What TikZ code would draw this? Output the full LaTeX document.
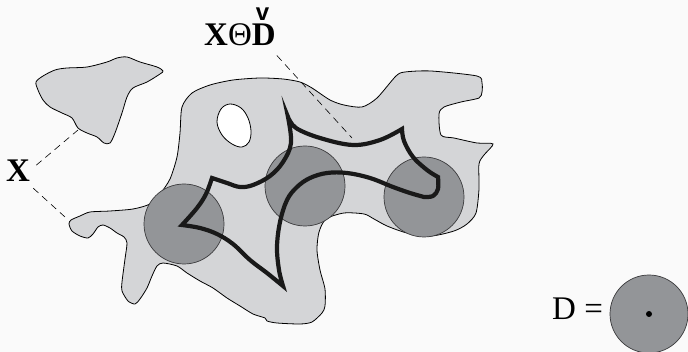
\documentclass[tikz,border=0pt]{standalone}
\usepackage{fontspec}
\setmainfont{Liberation Serif}
\newfontfamily\chkfont{Liberation Sans}
\definecolor{bg}{HTML}{FAFAFA}
\definecolor{blobfill}{HTML}{D4D5D7}
\definecolor{diskfill}{HTML}{939598}
\definecolor{diskline}{HTML}{3A3A3C}
\begin{document}
\begin{tikzpicture}[x=1pt,y=-1pt,
  blobstyle/.style={draw=black,line width=0.8pt,fill=blobfill},
  holestyle/.style={draw=black,line width=0.8pt,fill=white},
  diskstyle/.style={circle,draw=diskline,line width=0.7pt,fill=diskfill,minimum size=80pt,inner sep=0pt},
  erosion/.style={draw=black!90,line width=4.2pt,line join=miter,miter limit=20},
  leader/.style={draw=black,line width=0.6pt,dash pattern=on 7pt off 5pt},
  lbl/.style={font=\fontsize{33}{36}\selectfont,inner sep=0pt}]
\useasboundingbox (0,0) rectangle (688,352);
\fill[bg] (0,0) rectangle (688,352);
% small blob
\path[blobstyle] plot[smooth cycle,tension=0.5] coordinates {
 (36,82) (43,76) (55,70) (67,68) (87,67) (107,62) (117,58) (127,57) (140,62)
 (157,67) (163,71) (160,74) (147,82) (133,88) (127,97) (122,113) (115,133)
 (110,143) (104,143) (97,137) (87,133) (78,128) (72,118) (62,113) (50,107)
 (43,100) (38,90)};
% main blob
\path[blobstyle] plot[smooth cycle,tension=0.45] coordinates {
 (182,107) (192,93) (210,85) (233,80) (260,78) (283,79) (300,82) (312,88)
 (330,100) (344,105) (362,107) (377,98) (396,76) (405,72) (431,71) (477,76)
 (482,83) (482,92) (479,98) (461,102) (444,107) (439,114) (441,135) (454,138)
 (477,143) (493,144) (484,155) (479,164) (479,189) (476,213) (467,224)
 (454,231) (431,236) (407,233) (387,226) (374,219) (364,214) (344,213)
 (326,219) (319,232) (317,250) (320,270) (325,289) (325,306) (322,313)
 (312,322) (300,324) (277,323) (267,321) (265,318) (253,314) (240,306)
 (227,298) (213,288) (200,281) (187,273) (177,266) (163,263) (157,266)
 (152,276) (147,288) (140,299) (135,304) (128,301) (122,291) (122,282)
 (125,259) (127,243) (124,237) (117,233) (110,228) (103,225) (98,227)
 (93,234) (88,238) (80,236) (72,231) (69,224) (71,220) (80,216) (90,212)
 (110,211) (133,209) (150,204) (160,194) (170,179) (177,157) (180,133)};
% hole
\path[holestyle] plot[smooth cycle,tension=0.6] coordinates {
 (230,104) (241,108) (248,118) (251,131) (249,142) (242,147) (232,144)
 (222,135) (217,122) (221,109)};
% disks
\node[diskstyle] (d1) at (184,224) {};
\node[diskstyle] (d2) at (305,186) {};
\node[diskstyle] (d3) at (424,197) {};
% erosion outline
\path[erosion]
 plot[smooth,tension=0.6] coordinates {(182,225) (197,208) (206,194) (212,178)}
 -- plot[smooth,tension=0.6] coordinates {(212,178) (227,183) (240,187) (253,185) (270,176) (283,162) (291,143) (288,117)}
 -- plot[smooth,tension=0.6] coordinates {(288,117) (296,128) (320,138) (353,145) (380,140) (402,129)}
 -- plot[smooth,tension=0.6] coordinates {(402,129) (404,141) (413,157) (427,170) (438,177)}
 -- plot[smooth,tension=0.6] coordinates {(438,177) (438,189) (433,196) (424,197)}
 -- plot[smooth,tension=0.6] coordinates {(424,197) (410,193) (393,187) (370,178) (347,173) (327,173) (310,178) (297,187) (287,200) (280,222) (277,247) (279,270) (283,286)}
 -- plot[smooth,tension=0.6] coordinates {(283,286) (267,273) (250,260) (233,244) (217,234) (200,228) (182,225)}
 -- cycle;
% labels
\node[lbl,anchor=base west] (xlab) at (6,182) {\bfseries X};
\node[lbl,anchor=base west] (elab) at (204,46) {\bfseries X\mdseries Θ\bfseries\rlap{\hspace{4pt}\raisebox{25pt}{\chkfont\fontsize{24}{24}\selectfont\bfseries v}}D};
\node[lbl,anchor=base west] (deq) at (552,320) {D =};
% structuring element
\node[diskstyle,minimum size=78pt] (dd) at (649,314) {};
\fill (dd.center) circle[radius=3pt];
% leaders
\coordinate (p1) at (78,130);
\coordinate (p2) at (65,217);
\coordinate (p3) at (352,138);
\path[leader] ([shift={(6pt,6pt)}]xlab.east) -- (p1);
\path[leader] ([shift={(3pt,-6pt)}]xlab.south east) -- (p2);
\path[leader] ([shift={(1pt,-9pt)}]elab.south east) -- (p3);
\end{tikzpicture}
\end{document}
